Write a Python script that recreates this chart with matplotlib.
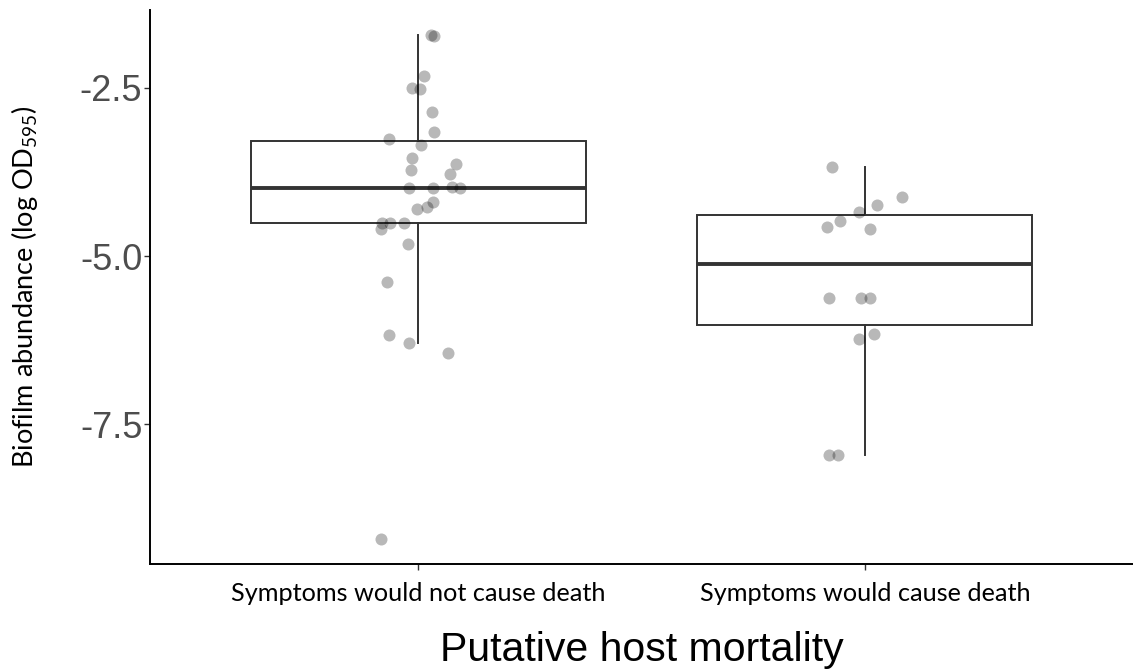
import numpy as np
import matplotlib
matplotlib.use("Agg")
import matplotlib.pyplot as plt

# biofilm abundance (log OD595) per isolate, with horizontal jitter used for the points
categories = ["Symptoms would not cause death", "Symptoms would cause death"]

no_death = [-1.71, -1.73, -2.32, -2.50, -2.51, -2.86, -3.15, -3.26, -3.35, -3.54,
            -3.72, -3.63, -3.78, -3.99, -3.99, -3.97, -3.99, -4.30, -4.27, -4.20,
            -4.51, -4.51, -4.60, -4.51, -4.82, -5.39, -6.18, -6.29, -6.44, -9.21]
no_death_jit = [0.030, 0.036, 0.013, -0.013, 0.004, 0.031, 0.036, -0.065, 0.007, -0.013,
                -0.016, 0.085, 0.072, -0.020, 0.034, 0.076, 0.094, -0.002, 0.020, 0.034,
                -0.081, -0.063, -0.083, -0.031, -0.022, -0.069, -0.065, -0.020, 0.067, -0.083]

death = [-3.68, -4.12, -4.24, -4.35, -4.48, -4.57, -4.60, -5.63, -5.63, -5.63,
         -6.16, -6.24, -7.96, -7.96]
death_jit = [-0.074, 0.083, 0.027, -0.013, -0.056, -0.085, 0.011, -0.081, -0.009, 0.011,
             0.020, -0.013, -0.081, -0.060]

groups = [no_death, death]
jitters = [no_death_jit, death_jit]
yticks = [-2.5, -5.0, -7.5]

plt.rcParams["mathtext.fontset"] = "custom"
plt.rcParams["mathtext.rm"] = "Lato"

fig = plt.figure(figsize=(11.33, 6.70), dpi=100)
ax = fig.add_axes([150 / 1133, 1 - 564 / 670, 1 - 150 / 1133, 554 / 670])

line = dict(color="#333333", linewidth=1.4)
ax.boxplot(groups, positions=[1, 2], widths=0.75, showfliers=False, showcaps=False,
           patch_artist=True,
           boxprops=dict(facecolor="white", edgecolor="#333333", linewidth=1.4),
           whiskerprops=line,
           medianprops=dict(color="#333333", linewidth=2.8),
           zorder=1)

for i, (vals, jit) in enumerate(zip(groups, jitters)):
    x = i + 1 + np.array(jit)
    ax.scatter(x, vals, s=75, color="black", alpha=0.28, linewidths=0, zorder=3)

ax.set_xlim(0.4, 2.6)
ax.set_ylim(-9.58, -1.34)
ax.set_yticks(yticks)
ax.set_yticklabels([f"{t:.1f}" for t in yticks], family="Liberation Sans",
                   fontsize=26, color="#4d4d4d")
ax.set_xticks([1, 2])
ax.set_xticklabels(categories, family="Lato", fontsize=18.2, color="black")
ax.tick_params(axis="both", length=4, width=1, color="#333333")
ax.tick_params(axis="x", pad=9)
ax.tick_params(axis="y", pad=1.5)

for side in ["top", "right"]:
    ax.spines[side].set_visible(False)
for side in ["left", "bottom"]:
    ax.spines[side].set_linewidth(1.4)
    ax.spines[side].set_color("black")

ax.set_ylabel("Biofilm abundance (log OD$_{595}$)", family="Lato", fontsize=19.5,
              labelpad=29)
ax.set_xlabel("Putative host mortality", family="Liberation Sans", fontsize=29.5,
              labelpad=19)

fig.savefig("out.png", dpi=100)
